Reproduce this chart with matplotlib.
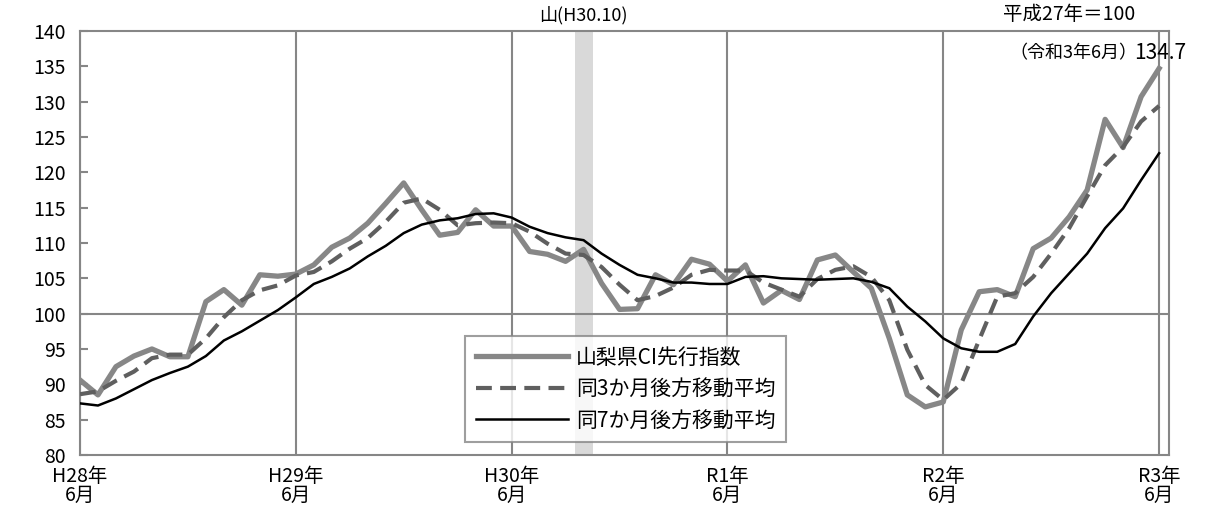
import numpy as np
import matplotlib
matplotlib.use("Agg")
import matplotlib.pyplot as plt

plt.rcParams['font.family'] = ['Noto Sans CJK JP', 'DejaVu Sans']

# 山梨県CI先行指数 H28年6月 - R3年6月 (月次)
ci = [90.6, 88.5, 92.5, 94.0, 95.0, 93.9, 93.9, 101.7, 103.4, 101.2, 105.5, 105.3,
      105.6, 106.9, 109.4, 110.7, 112.8, 115.6, 118.5, 114.7, 111.1, 111.5, 114.7, 112.4,
      112.4, 108.8, 108.4, 107.4, 109.1, 104.3, 100.6, 100.7, 105.5, 104.1, 107.7, 107.0,
      104.6, 106.9, 101.5, 103.3, 102.0, 107.6, 108.3, 105.9, 103.6, 96.5, 88.5, 86.8,
      87.5, 97.7, 103.1, 103.4, 102.4, 109.2, 110.7, 113.7, 117.5, 127.5, 123.5, 130.7,
      134.7]
ma3 = [88.6, 89.0, 90.5, 91.8, 93.7, 94.2, 94.2, 96.5, 99.5, 101.9, 103.3, 104.0,
       105.4, 105.9, 107.4, 109.2, 110.7, 113.0, 115.7, 116.3, 114.7, 112.5, 112.8, 112.9,
       112.8, 111.6, 109.9, 108.5, 108.3, 106.6, 104.1, 101.9, 102.5, 103.7, 105.5, 106.2,
       106.1, 106.1, 104.4, 103.4, 102.4, 104.9, 106.2, 106.7, 105.2, 101.9, 94.9, 89.9,
       87.8, 90.1, 96.3, 102.4, 102.9, 105.2, 108.5, 112.1, 116.6, 121.0, 123.6, 127.2,
       129.4]
ma7 = [87.3, 87.0, 88.0, 89.3, 90.6, 91.6, 92.5, 94.0, 96.2, 97.5, 99.0, 100.5,
       102.3, 104.2, 105.2, 106.4, 108.1, 109.6, 111.4, 112.6, 113.2, 113.5, 114.1, 114.2,
       113.6, 112.3, 111.4, 110.8, 110.4, 108.5, 106.9, 105.5, 105.0, 104.4, 104.4, 104.2,
       104.2, 105.2, 105.3, 105.0, 104.9, 104.8, 104.9, 105.0, 104.5, 103.6, 101.0, 98.9,
       96.5, 95.1, 94.6, 94.6, 95.7, 99.6, 102.9, 105.7, 108.5, 112.1, 114.9, 118.9,
       122.7]
year_pos = [0, 12, 24, 36, 48, 60]
year_labels = ['H28年\n6月', 'H29年\n6月', 'H30年\n6月', 'R1年\n6月', 'R2年\n6月', 'R3年\n6月']
peak_month = 28  # H30.10

x = np.arange(len(ci))

fig = plt.figure(figsize=(12.12, 5.17), dpi=100)
ax = fig.add_axes([0.066, 0.12, 0.8985, 0.82])

ax.axvspan(peak_month - 0.5, peak_month + 0.5, color='#d9d9d9', lw=0, zorder=1)
for p in year_pos:
    ax.axvline(p, color='#868686', lw=1.5, zorder=1)
ax.axhline(100, color='#868686', lw=1.5, zorder=1)

ax.plot(x, ci, color='#878787', lw=3.8, label='山梨県CI先行指数', zorder=3)
ax.plot(x, ma3, color='#5f5f5f', lw=3.0, dashes=(3.8, 2), label='同3か月後方移動平均', zorder=4)
ax.plot(x, ma7, color='black', lw=1.8, label='同7か月後方移動平均', zorder=5)

ax.set_xlim(0, 60.55)
ax.set_ylim(80, 140)
ax.set_yticks(range(80, 141, 5))
ax.set_xticks(year_pos)
ax.set_xticklabels(year_labels, fontsize=14, linespacing=0.85)
ax.tick_params(axis='x', length=0, pad=8)
ax.tick_params(axis='y', direction='in', length=6, color='#868686', width=1.5, labelsize=14, pad=10)
for s in ax.spines.values():
    s.set_color('#868686')
    s.set_linewidth(1.5)

leg = ax.legend(loc='lower left', bbox_to_anchor=(0.354, 0.031), borderaxespad=0,
                fontsize=15, frameon=True, fancybox=False, edgecolor='#868686',
                handlelength=4.4, borderpad=0.5, labelspacing=0.45, handletextpad=0.4)
leg.get_frame().set_linewidth(1.5)

ax.text(peak_month, 140.9, '山(H30.10)', ha='center', va='bottom', fontsize=13)
ax.text(55.0, 140.9, '平成27年＝100', ha='center', va='bottom', fontsize=14)
ax.text(58.8, 135.6, '（令和3年6月）', ha='right', va='bottom', fontsize=13)
ax.text(58.6, 135.4, '%.1f' % ci[-1], ha='left', va='bottom', fontsize=15)

fig.savefig('out.png', dpi=100)
